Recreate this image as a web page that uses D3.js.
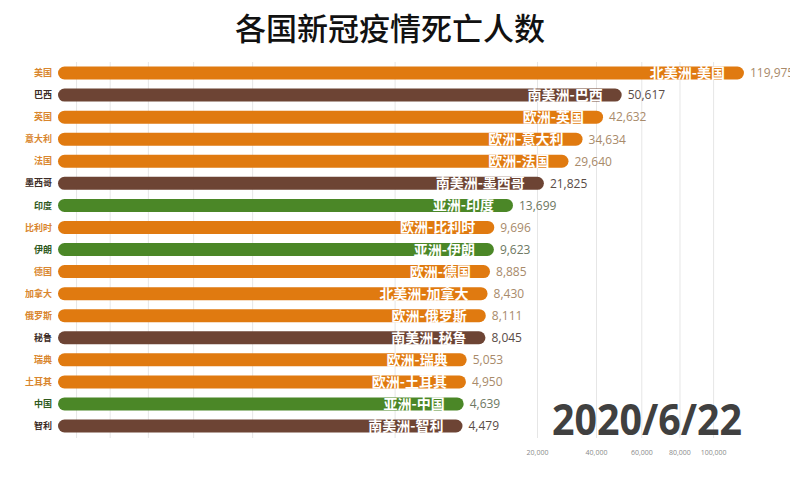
<!DOCTYPE html>
<html><head><meta charset="utf-8">
<script src="https://cdn.jsdelivr.net/npm/d3@7/dist/d3.min.js"></script>
<style>
html,body{margin:0;padding:0;background:#fff;}
svg{display:block;font-family:"Noto Sans CJK SC","Noto Sans",sans-serif;}
</style></head>
<body>
<svg id="chart" width="790" height="490"></svg>
<script>
const title = "各国新冠疫情死亡人数";
const dateLabel = "2020/6/22";
const countries = ["美国","巴西","英国","意大利","法国","墨西哥","印度","比利时","伊朗","德国","加拿大","俄罗斯","秘鲁","瑞典","土耳其","中国","智利"];
const continents = ["北美洲","南美洲","欧洲","欧洲","欧洲","南美洲","亚洲","欧洲","亚洲","欧洲","北美洲","欧洲","南美洲","欧洲","欧洲","亚洲","南美洲"];
const deaths = [119975,50617,42632,34634,29640,21825,13699,9696,9623,8885,8430,8111,8045,5053,4950,4639,4479];
const tickValues = [20000,40000,60000,80000,100000];
const gridValues = [-100000,-80000,-60000,-40000,-20000,0,20000,40000,60000,80000,100000];
const continentNames = ["北美洲","欧洲","南美洲","亚洲"];
const barColors = ["#e07a10","#e07a10","#6d4434","#4b8727"];
const nameColors = ["#d9862e","#d9862e","#3d2c26","#2f5a1d"];
const valueColors = ["#a88a6a","#a88a6a","#5a4c47","#6d7862"];

const svg = d3.select("#chart");
const x = d3.scaleSqrt().domain([-112000, 120000]).range([58, 744]);
const y = d3.scalePoint().domain(countries).range([73, 426]);
const barColor = d3.scaleOrdinal().domain(continentNames).range(barColors);
const nameColor = d3.scaleOrdinal().domain(continentNames).range(nameColors);
const valueColor = d3.scaleOrdinal().domain(continentNames).range(valueColors);
const fmt = d3.format(",");

const data = countries.map((c,i)=>({country:c, continent:continents[i], value:deaths[i]}));

// gridlines
svg.append("g").selectAll("line").data(gridValues).join("line")
  .attr("x1", d=>x(d)).attr("x2", d=>x(d))
  .attr("y1", 62).attr("y2", 438)
  .attr("stroke", "#e6e6e6").attr("stroke-width", 1);

// tick labels
svg.append("g").selectAll("text").data(tickValues).join("text")
  .attr("x", d=>x(d)).attr("y", 455)
  .attr("text-anchor","middle")
  .attr("font-size", 7).attr("fill", "#8a8a8a")
  .attr("font-family","'Open Sans',sans-serif")
  .text(d=>fmt(d));

// date
svg.append("text").attr("x", 742).attr("y", 435)
  .attr("text-anchor","end")
  .attr("font-family","'Open Sans',sans-serif")
  .attr("font-weight","bold").attr("font-size", 43)
  .attr("textLength", 190).attr("lengthAdjust","spacingAndGlyphs")
  .attr("fill","#404040").text(dateLabel);

const bh = 13;
const rows = svg.append("g").selectAll("g").data(data).join("g");

rows.append("rect")
  .attr("x", x.range()[0]).attr("y", d=>y(d.country)-bh/2)
  .attr("width", d=>x(d.value)-x.range()[0]).attr("height", bh)
  .attr("rx", bh/2).attr("fill", d=>barColor(d.continent));

rows.append("text")
  .attr("x", 52).attr("y", d=>y(d.country)).attr("dy","0.35em")
  .attr("text-anchor","end").attr("font-size", 9).attr("font-weight","bold")
  .attr("fill", d=>nameColor(d.continent)).text(d=>d.country);

rows.append("text")
  .attr("x", d=>x(d.value)-19).attr("y", d=>y(d.country)).attr("dy","0.36em")
  .attr("text-anchor","end").attr("font-size", 14).attr("font-weight","bold")
  .attr("fill","#fff").text(d=>d.continent+"-"+d.country);

rows.append("text")
  .attr("x", d=>x(d.value)+6).attr("y", d=>y(d.country)).attr("dy","0.36em")
  .attr("font-size", 12).attr("font-family","'Open Sans',sans-serif")
  .attr("fill", d=>valueColor(d.continent)).text(d=>fmt(d.value));

// title
svg.append("text").attr("x", 390).attr("y", 40)
  .attr("text-anchor","middle").attr("font-size", 31).attr("font-weight", 500)
  .attr("fill","#111").text(title);
</script>
</body></html>
